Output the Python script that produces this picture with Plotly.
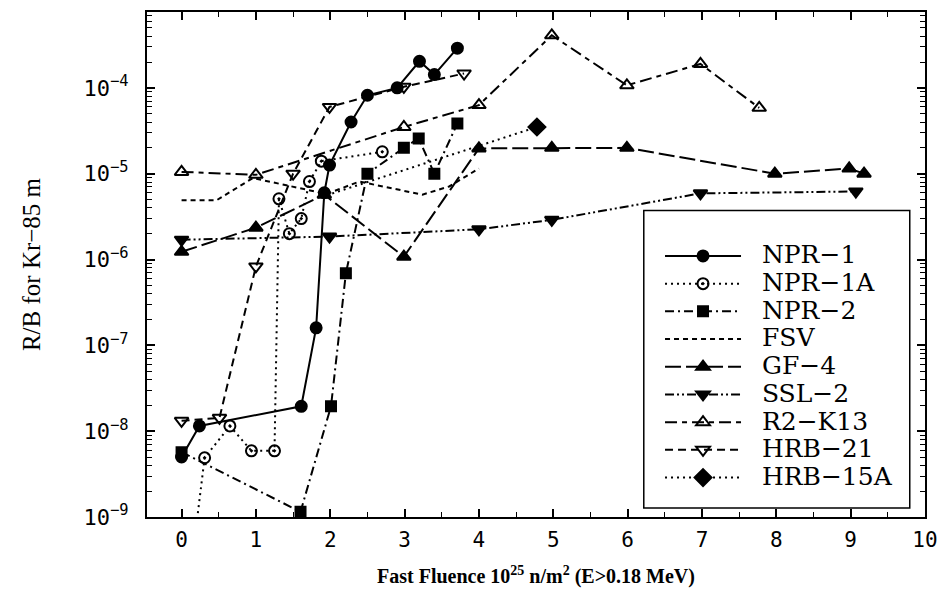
import plotly.graph_objects as go

# ---- data ----
npr1_x = [0, 0.24, 1.61, 1.81, 1.92, 1.99, 2.28, 2.50, 2.90, 3.20, 3.40, 3.71]
npr1_y = [5.0e-9, 1.15e-8, 1.95e-8, 1.6e-7, 6.0e-6, 1.26e-5, 4.0e-5, 8.2e-5, 1.0e-4, 2.04e-4, 1.43e-4, 2.9e-4]

npr1a_x = [0.17, 0.31, 0.65, 0.94, 1.25, 1.31, 1.45, 1.61, 1.72, 1.88, 2.70]
npr1a_y = [5e-10, 4.9e-9, 1.15e-8, 5.9e-9, 5.9e-9, 5.1e-6, 2.0e-6, 3.0e-6, 8.1e-6, 1.4e-5, 1.8e-5]

npr2_x = [0, 1.60, 2.01, 2.21, 2.50, 2.99, 3.19, 3.40, 3.71]
npr2_y = [5.7e-9, 1.15e-9, 1.95e-8, 6.9e-7, 1.0e-5, 2.0e-5, 2.57e-5, 1.0e-5, 3.85e-5]

fsv_x = [0, 0.47, 0.96, 1.95, 2.39, 3.24, 3.60, 4.0]
fsv_y = [4.9e-6, 4.9e-6, 8.9e-6, 5.8e-6, 8.1e-6, 5.7e-6, 7.1e-6, 1.15e-5]

gf4_x = [0, 1.0, 1.92, 2.99, 4.0, 4.98, 5.99, 7.98, 8.98, 9.18]
gf4_y = [1.23e-6, 2.35e-6, 5.7e-6, 1.08e-6, 1.97e-5, 2.0e-5, 2.0e-5, 1.0e-5, 1.15e-5, 1.0e-5]

ssl2_x = [0, 1.99, 4.0, 4.98, 6.98, 9.07]
ssl2_y = [1.7e-6, 1.85e-6, 2.25e-6, 2.9e-6, 5.9e-6, 6.2e-6]

r2k13_x = [0, 1.0, 2.99, 4.0, 4.98, 5.99, 6.98, 7.77]
r2k13_y = [1.05e-5, 9.7e-6, 3.5e-5, 6.3e-5, 4.1e-4, 1.07e-4, 1.9e-4, 5.85e-5]

hrb21_x = [0, 0.51, 1.0, 1.50, 1.99, 2.99, 3.80]
hrb21_y = [1.32e-8, 1.43e-8, 8.3e-7, 1.0e-5, 6.0e-5, 1.03e-4, 1.47e-4]

# HRB-15A: the line starts at an unmarked point, only the last point carries a diamond
hrb15a_x = [1.95, 4.78]
hrb15a_y = [5.6e-6, 3.5e-5]

y_tick_vals = [1e-9, 1e-8, 1e-7, 1e-6, 1e-5, 1e-4]
y_tick_text = ["10<sup>−9</sup>", "10<sup>−8</sup>", "10<sup>−7</sup>",
               "10<sup>−6</sup>", "10<sup>−5</sup>", "10<sup>−4</sup>"]
x_tick_vals = list(range(0, 11))

series = [
    ("NPR−1", npr1_x, npr1_y, "solid", "circle", 11),
    ("NPR−1A", npr1a_x, npr1a_y, "2px,4px", "circle-open-dot", 11),
    ("NPR−2", npr2_x, npr2_y, "9px,4px,2px,4px", "square", 10),
    ("FSV", fsv_x, fsv_y, "5px,4px", None, 0),
    ("GF−4", gf4_x, gf4_y, "16px,5px", "triangle-up", 12),
    ("SSL−2", ssl2_x, ssl2_y, "9px,3px,2px,3px,2px,3px", "triangle-down", 12),
    ("R2−K13", r2k13_x, r2k13_y, "12px,5px,5px,5px", "triangle-up-open", 12),
    ("HRB−21", hrb21_x, hrb21_y, "8px,5px", "triangle-down-open", 12),
    ("HRB−15A", hrb15a_x, hrb15a_y, "2px,4px", "diamond", 13),
]

fig = go.Figure()
for name, xs, ys, dash, sym, size in series:
    label = "<span style='font-size:25px'>\u00a0\u00a0" + name + "</span>"
    line = dict(color="black", width=2, dash=dash)
    if sym is None:
        fig.add_trace(go.Scatter(x=xs, y=ys, mode="lines", name=label, line=line))
    elif name == "HRB−15A":
        fig.add_trace(go.Scatter(x=xs, y=ys, mode="lines", line=line,
                                 showlegend=False, hoverinfo="skip"))
        fig.add_trace(go.Scatter(x=xs[1:], y=ys[1:], mode="lines+markers", name=label,
                                 line=line,
                                 marker=dict(symbol=sym, size=size, color="black",
                                             line=dict(color="black", width=2))))
    else:
        fig.add_trace(go.Scatter(x=xs, y=ys, mode="lines+markers", name=label, line=line,
                                 marker=dict(symbol=sym, size=size, color="black",
                                             line=dict(color="black", width=2))))

L, R, T, B = 147, 20, 10, 83
W, H = 948, 600
pw, ph = W - L - R, H - T - B

def px_x(p):
    return (p - L) / pw

def px_y(p):
    return (H - B - p) / ph

fig.add_shape(type="rect", xref="paper", yref="paper",
              x0=px_x(645.7), x1=px_x(912.7), y0=px_y(508), y1=px_y(209.3),
              line=dict(color="black", width=1.5), fillcolor="white", layer="above")

fig.update_layout(
    width=W, height=H,
    margin=dict(l=L, r=R, t=T, b=B),
    paper_bgcolor="white", plot_bgcolor="white",
    font=dict(family="DejaVu Serif", color="black"),
    showlegend=True,
    legend=dict(x=px_x(662), y=px_y(236), xanchor="left", yanchor="top",
                bgcolor="rgba(0,0,0,0)", borderwidth=0,
                font=dict(family="DejaVu Serif", size=19, color="black"),
                itemwidth=76, tracegroupgap=0),
    xaxis=dict(range=[-0.465, 10], tickvals=x_tick_vals, ticks="inside", ticklen=8,
               tickwidth=1.5, tickcolor="black", mirror="allticks", showline=True,
               linecolor="black", linewidth=2, showgrid=False, zeroline=False,
               tickfont=dict(family="DejaVu Sans Mono", size=21),
               ticklabelstandoff=3,
               minor=dict(dtick=0.5, ticks="inside", ticklen=5, tickwidth=1.2,
                          tickcolor="black", showgrid=False),
               title=dict(text="<b>Fast Fluence 10<sup>25</sup> n/m<sup>2</sup> (E>0.18 MeV)</b>",
                          font=dict(family="Liberation Serif", size=20), standoff=18)),
    yaxis=dict(type="log", range=[-9, -3.116], tickvals=y_tick_vals, ticktext=y_tick_text,
               ticks="inside", ticklen=8, tickwidth=1.5, tickcolor="black",
               mirror="allticks", showline=True, linecolor="black", linewidth=2,
               showgrid=False, zeroline=False,
               tickfont=dict(family="DejaVu Sans Mono", size=22),
               ticklabelstandoff=12,
               minor=dict(dtick="D1", ticks="inside", ticklen=5, tickwidth=1.2,
                          tickcolor="black", showgrid=False),
               title=dict(text="R/B for Kr−85 m",
                          font=dict(family="Liberation Serif", size=25), standoff=36)),
)

fig.write_html("out.html")
